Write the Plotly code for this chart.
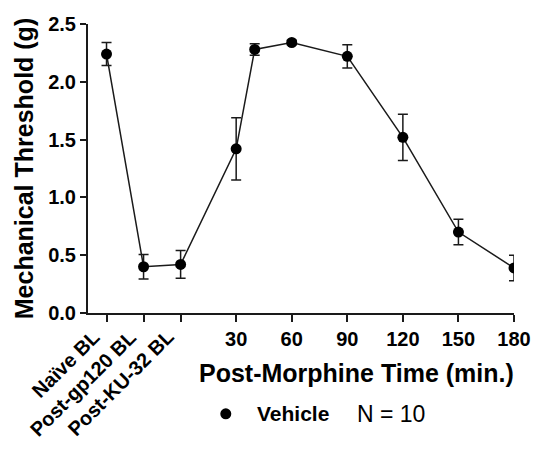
import plotly.graph_objects as go

# Data
x_pos = [-40, -20, 0, 30, 40, 60, 90, 120, 150, 180]
means = [2.24, 0.40, 0.42, 1.42, 2.28, 2.34, 2.22, 1.52, 0.70, 0.39]
sems = [0.10, 0.105, 0.12, 0.27, 0.05, 0.02, 0.10, 0.20, 0.11, 0.11]
baseline_labels = ["Naïve BL", "Post-gp120 BL", "Post-KU-32 BL"]
baseline_x = [-40, -20, 0]
time_ticks = [30, 60, 90, 120, 150, 180]
y_ticks = [0.0, 0.5, 1.0, 1.5, 2.0, 2.5]
series_name = "Vehicle"
n_text = "N = 10"

FONT = "Arial, Liberation Sans, sans-serif"

fig = go.Figure()
fig.add_trace(go.Scatter(
    x=x_pos, y=means, mode="lines+markers",
    line=dict(color="#1a1a1a", width=1.5),
    marker=dict(color="black", size=11),
    error_y=dict(type="data", array=sems, visible=True, color="#1a1a1a", thickness=1.5, width=5),
    showlegend=False,
))
# legend-only trace (marker symbol)
fig.add_trace(go.Scatter(
    x=[None], y=[None], mode="markers", name=" ",
    marker=dict(color="black", size=11), showlegend=True,
))

tickvals = baseline_x + time_ticks
ticktext = [""] * len(baseline_x) + [str(t) for t in time_ticks]

fig.update_layout(
    width=543, height=450,
    margin=dict(l=88, r=21, t=24, b=137),
    plot_bgcolor="white", paper_bgcolor="white",
    font=dict(family=FONT, color="black"),
    xaxis=dict(
        range=[-50, 180], tickvals=tickvals, ticktext=ticktext,
        showline=True, linecolor="#1a1a1a", linewidth=2,
        ticks="outside", ticklen=7, tickwidth=2, tickcolor="#1a1a1a",
        tickfont=dict(size=20, weight="bold", family=FONT),
        showgrid=False, zeroline=False,
    ),
    yaxis=dict(
        range=[0, 2.5], tickvals=y_ticks, tickformat=".1f",
        showline=True, linecolor="#1a1a1a", linewidth=2,
        ticks="outside", ticklen=6, tickwidth=2, tickcolor="#1a1a1a",
        tickfont=dict(size=20, weight="bold", family=FONT),
        showgrid=False, zeroline=False,
        title=dict(text="<b>Mechanical Threshold (g)</b>", font=dict(size=25, family=FONT), standoff=7),
    ),
    legend=dict(
        x=0.2765, y=-0.349, xanchor="left", yanchor="middle",
        font=dict(size=20, family=FONT), bgcolor="rgba(0,0,0,0)",
    ),
)

for lab, xv in zip(baseline_labels, baseline_x):
    fig.add_annotation(
        x=xv, y=-0.035, xref="x", yref="paper", text=f"<b>{lab}</b>",
        textangle=-45, xanchor="right", yanchor="top", showarrow=False,
        font=dict(size=20, family=FONT),
    )

fig.add_annotation(
    x=0.631, y=-0.2076, xref="paper", yref="paper",
    text="<b>Post-Morphine Time (min.)</b>", showarrow=False,
    xanchor="center", yanchor="middle", font=dict(size=25, family=FONT),
)
fig.add_annotation(
    x=(258 - 88) / 434, y=-0.349, xref="paper", yref="paper",
    text=f"<b>{series_name}</b>", showarrow=False,
    xanchor="left", yanchor="middle", font=dict(size=21, family=FONT),
)
fig.add_annotation(
    x=(360 - 88) / 434, y=-0.349, xref="paper", yref="paper",
    text=n_text, showarrow=False,
    xanchor="left", yanchor="middle", font=dict(size=23, family=FONT),
)

fig.write_html("out.html")
